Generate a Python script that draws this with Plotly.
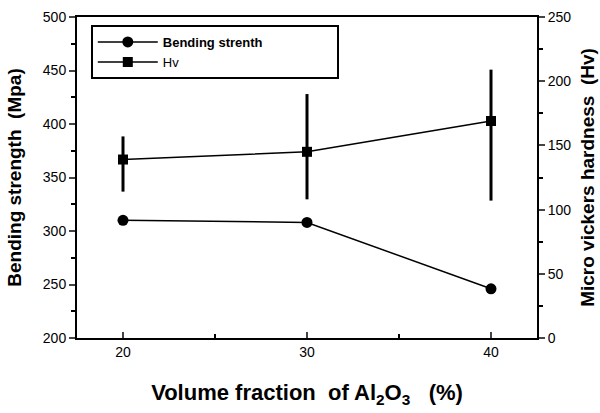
import plotly.graph_objects as go

volume_fraction = [20, 30, 40]
bending_strength = [310, 308, 246]
hv = [139, 145, 169]
hv_err_plus = [18, 45, 40]
hv_err_minus = [25, 37, 62]

fig = go.Figure()
fig.add_trace(go.Scatter(
    x=volume_fraction, y=bending_strength,
    name="<b>Bending strenth</b>" + "\u00a0" * 19,
    mode="lines+markers", line=dict(color="black", width=1.5),
    marker=dict(symbol="circle", size=11, color="black"), yaxis="y"))
fig.add_trace(go.Scatter(
    x=volume_fraction, y=hv, name="Hv",
    mode="lines+markers", line=dict(color="black", width=1.5),
    marker=dict(symbol="square", size=10, color="black"),
    error_y=dict(type="data", symmetric=False, array=hv_err_plus,
                 arrayminus=hv_err_minus, color="black", thickness=3, width=0),
    yaxis="y2"))

FONT = "Arial, Liberation Sans, sans-serif"
axis_font = dict(family=FONT, size=14, color="black")
title_font = dict(family=FONT, size=19, color="black")

fig.update_layout(
    width=600, height=413,
    margin=dict(l=77, r=63, t=17, b=75),
    paper_bgcolor="white", plot_bgcolor="white",
    showlegend=True,
    legend=dict(x=0.03, y=0.975, xanchor="left", yanchor="top",
                bgcolor="white", bordercolor="black", borderwidth=2,
                font=dict(family=FONT, size=13, color="black"),
                tracegroupgap=0, itemwidth=60),
    xaxis=dict(range=[17.5, 42.5], tickvals=[20, 30, 40], ticks="inside", ticklen=6,
               tickwidth=2, showline=True, linecolor="black", linewidth=2, mirror=True,
               showgrid=False, zeroline=False, tickfont=axis_font, automargin=False,
               minor=dict(tickvals=[25, 35], ticks="inside", ticklen=4, tickwidth=2, tickcolor="black"),
               title=dict(text="<b>Volume fraction  of Al<sub>2</sub>O<sub>3</sub>   (%)</b>",
                          font=dict(family=FONT, size=22, color="black"),
                          standoff=26)),
    yaxis=dict(range=[200, 500], dtick=50, ticks="outside", ticklen=6, tickwidth=2,
               showline=True, linecolor="black", linewidth=2, showgrid=False, zeroline=False,
               tickfont=axis_font, automargin=False,
               minor=dict(dtick=25, ticks="outside", ticklen=4, tickwidth=2, tickcolor="black"),
               title=dict(text="<b>Bending strength  (Mpa)</b>", font=title_font, standoff=16)),
    yaxis2=dict(range=[0, 250], dtick=50, overlaying="y", side="right", ticks="outside",
                ticklen=6, tickwidth=2, showline=True, linecolor="black", linewidth=2,
                showgrid=False, zeroline=False, tickfont=axis_font, automargin=False,
                minor=dict(dtick=25, ticks="outside", ticklen=4, tickwidth=2, tickcolor="black"),
                title=dict(text="<b>Micro vickers hardness  (Hv)</b>", font=title_font, standoff=10)),
)

fig.write_html("out.html")
